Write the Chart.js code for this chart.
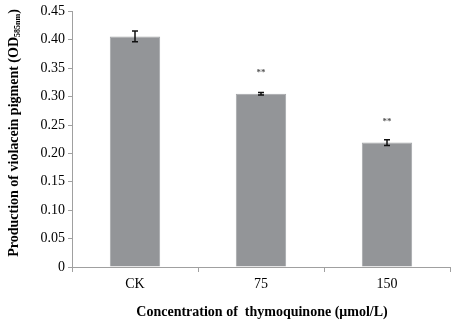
<!DOCTYPE html>
<html>
<head>
<meta charset="utf-8">
<script src="https://cdn.jsdelivr.net/npm/chart.js@4"></script>
<style>
  html, body { margin: 0; padding: 0; background: #fff; }
  #wrap { width: 454px; height: 327px; }
</style>
</head>
<body>
<div id="wrap"><canvas id="grafico" width="454" height="327"></canvas></div>
<script>
const categorias = ['CK', '75', '150'];
const valores = [0.406, 0.305, 0.219];
const erros = [0.0095, 0.002, 0.005];
const marcas = ['', '**', '**'];
const yTicks = [0, 0.05, 0.10, 0.15, 0.20, 0.25, 0.30, 0.35, 0.40, 0.45];

const fonteSerif = '"Liberation Serif", "Times New Roman", serif';

// barras de erro, asteriscos e títulos dos eixos
const extras = {
  id: 'extras',
  afterDatasetsDraw(chart) {
    const ctx = chart.ctx;
    const x = chart.scales.x;
    const y = chart.scales.y;
    ctx.save();
    ctx.strokeStyle = '#111';
    ctx.lineWidth = 1.5;
    valores.forEach((v, i) => {
      const cx = x.getPixelForValue(i);
      const top = y.getPixelForValue(v + erros[i]);
      const bot = y.getPixelForValue(v - erros[i]);
      ctx.beginPath();
      ctx.moveTo(cx, top); ctx.lineTo(cx, bot);
      ctx.moveTo(cx - 3, top); ctx.lineTo(cx + 3, top);
      ctx.moveTo(cx - 3, bot); ctx.lineTo(cx + 3, bot);
      ctx.stroke();
      if (marcas[i]) {
        ctx.fillStyle = '#555';
        ctx.font = 'bold 9px ' + fonteSerif;
        ctx.textAlign = 'center';
        ctx.textBaseline = 'middle';
        ctx.fillText(marcas[i], cx, y.getPixelForValue(v) - 21);
      }
    });
    ctx.restore();
  },
  afterDraw(chart) {
    const ctx = chart.ctx;
    ctx.save();
    ctx.fillStyle = '#000';
    // título eixo x
    ctx.font = 'bold 14px ' + fonteSerif;
    ctx.textAlign = 'center';
    ctx.textBaseline = 'middle';
    ctx.fillText('Concentration of  thymoquinone (\u03bcmol/L)', 262, 312);
    // título eixo y com subscrito
    ctx.translate(14, 133);
    ctx.rotate(-Math.PI / 2);
    const parte1 = 'Production of violacein pigment (OD';
    const sub = '585nm';
    const parte3 = ')';
    ctx.font = 'bold 14px ' + fonteSerif;
    const w1 = ctx.measureText(parte1).width;
    const w3 = ctx.measureText(parte3).width;
    ctx.font = 'bold 8px ' + fonteSerif;
    const w2 = ctx.measureText(sub).width;
    let pos = -(w1 + w2 + w3) / 2;
    ctx.textAlign = 'left';
    ctx.font = 'bold 14px ' + fonteSerif;
    ctx.fillText(parte1, pos, 0);
    pos += w1;
    ctx.font = 'bold 8px ' + fonteSerif;
    ctx.fillText(sub, pos, 4);
    pos += w2;
    ctx.font = 'bold 14px ' + fonteSerif;
    ctx.fillText(parte3, pos, 0);
    ctx.restore();
  }
};

const ctx = document.getElementById('grafico').getContext('2d');
new Chart(ctx, {
  type: 'bar',
  data: {
    labels: categorias,
    datasets: [{
      data: valores,
      backgroundColor: '#939598',
      borderColor: '#a4a6a9',
      borderWidth: 1,
      categoryPercentage: 1,
      barPercentage: 0.4
    }]
  },
  options: {
    responsive: false,
    animation: false,
    layout: { padding: { top: 9, right: 4, left: 0, bottom: 0 } },
    plugins: {
      legend: { display: false },
      tooltip: { enabled: false }
    },
    scales: {
      x: {
        grid: {
          offset: true,
          drawOnChartArea: false,
          drawTicks: true,
          tickLength: 5,
          color: '#a0a0a0'
        },
        border: { color: '#a0a0a0', width: 1 },
        ticks: {
          color: '#000',
          font: { family: fonteSerif, size: 14 },
          padding: 4
        },
        afterFit(scale) { scale.height = 60; }
      },
      y: {
        min: 0,
        max: 0.45,
        afterBuildTicks(scale) { scale.ticks = yTicks.map(v => ({ value: v })); },
        grid: {
          drawOnChartArea: false,
          drawTicks: true,
          tickLength: 4,
          color: '#a0a0a0'
        },
        border: { color: '#a0a0a0', width: 1 },
        ticks: {
          color: '#000',
          font: { family: fonteSerif, size: 14 },
          padding: 3,
          callback: v => v === 0 ? '0' : v.toFixed(2)
        },
        afterFit(scale) { scale.width = 72; }
      }
    }
  },
  plugins: [extras]
});
</script>
</body>
</html>
